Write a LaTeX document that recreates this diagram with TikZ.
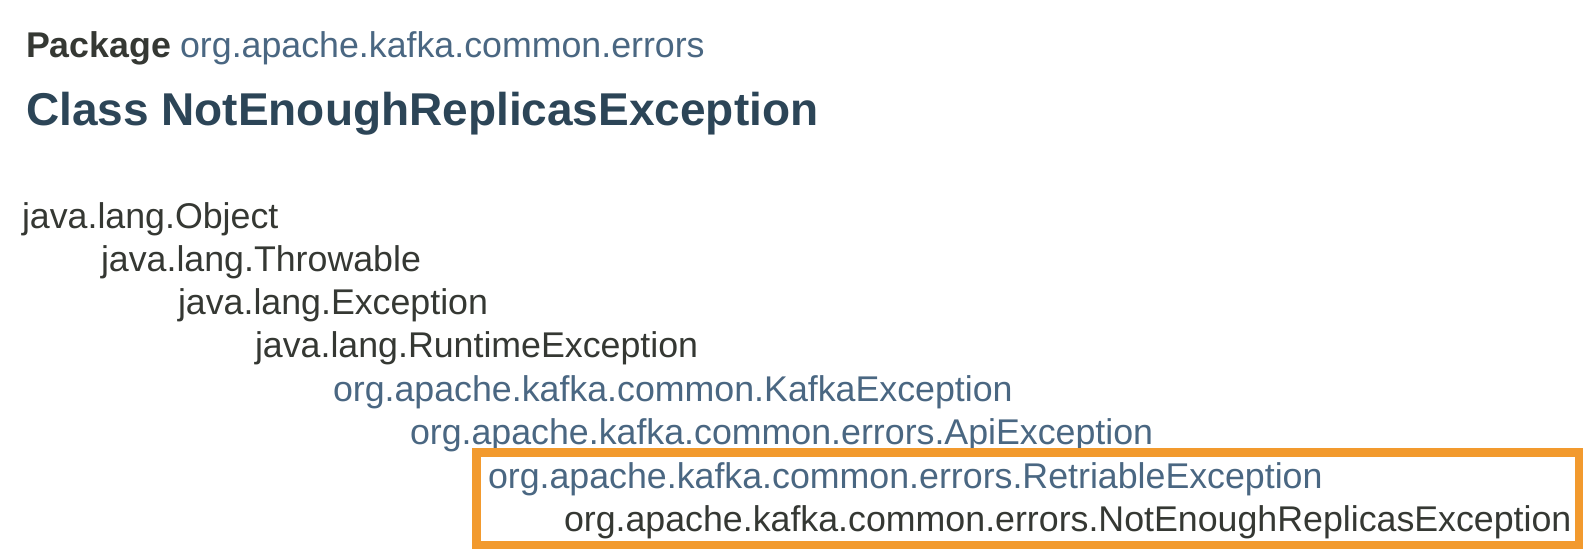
\documentclass[tikz,border=0pt]{standalone}
\usepackage{fontspec}
\setmainfont{Liberation Sans}
\definecolor{txt}{HTML}{353833}
\definecolor{lnk}{HTML}{4A6782}
\definecolor{head}{HTML}{2C4557}
\definecolor{hl}{HTML}{F29A2E}
\begin{document}
\begin{tikzpicture}[x=1pt,y=-1pt,
  every node/.style={inner sep=0pt,outer sep=0pt,anchor=base west},
  plain/.style={text=txt,font=\fontsize{35.75}{40}\selectfont},
  link/.style={text=lnk,font=\fontsize{35.75}{40}\selectfont},
  heading/.style={text=head,font=\fontsize{46}{50}\selectfont\bfseries},
  hlbox/.style={draw=hl,line width=8.5pt}]
\useasboundingbox[fill=white] (0,0) rectangle (1584,552);
\node[plain] (pkg) at (26,57) {\textbf{Package}};
\node[link,anchor=base west] (pkgname) at ([xshift=9pt]pkg.base east) {org.apache.kafka.common.errors};
\node[heading] (cls) at (26,125) {Class NotEnoughReplicasException};
\node[plain] (t1) at (22,228) {java.lang.Object};
\node[plain] (t2) at (101,271.3) {java.lang.Throwable};
\node[plain] (t3) at (178,314.6) {java.lang.Exception};
\node[plain] (t4) at (255,357.9) {java.lang.RuntimeException};
\node[link] (t5) at (333,401.2) {org.apache.kafka.common.KafkaException};
\node[link] (t6) at (410,444.5) {org.apache.kafka.common.errors.ApiException};
\node[link] (t7) at (488,488.5) {org.apache.kafka.common.errors.RetriableException};
\node[plain] (t8) at (564,531.5) {org.apache.kafka.common.errors.NotEnoughReplicasException};
\draw[hlbox] (476.25,452.25) rectangle (1578.75,545);
\end{tikzpicture}
\end{document}
